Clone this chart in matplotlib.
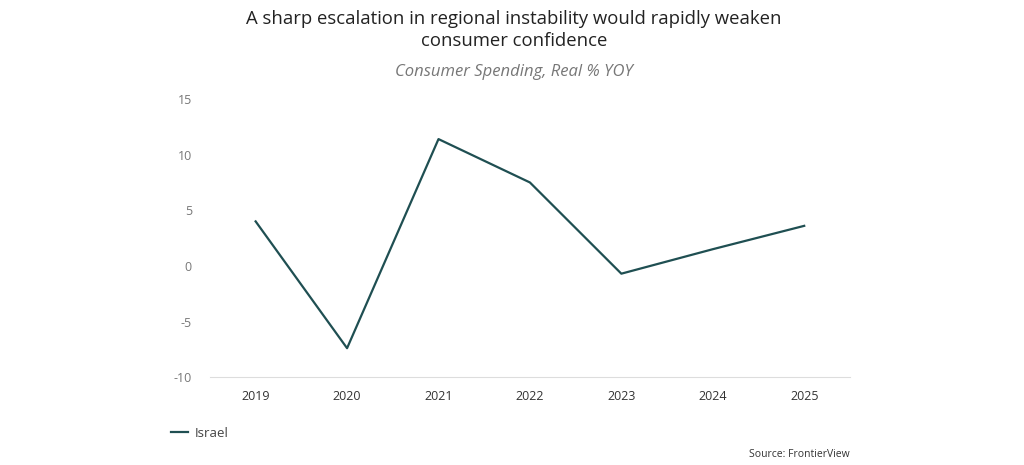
import matplotlib
matplotlib.use('Agg')
import matplotlib.pyplot as plt

years = ['2019', '2020', '2021', '2022', '2023', '2024', '2025']
israel = [4.0, -7.4, 11.4, 7.5, -0.7, 1.5, 3.6]
yticks = [-10, -5, 0, 5, 10, 15]

plt.rcParams['font.family'] = ['Open Sans', 'DejaVu Sans']

fig = plt.figure(figsize=(10.24, 4.65), dpi=100)
ax = fig.add_axes([0.205, 0.189, 0.625, 0.598])

x = range(len(years))
ax.plot(x, israel, color='#1f4f52', linewidth=1.6, label='Israel')

ax.set_xlim(-0.5, len(years) - 0.5)
ax.set_ylim(-10, 15)
ax.set_xticks(list(x))
ax.set_xticklabels(years, fontsize=9, color='#333333')
ax.set_yticks(yticks)
ax.set_yticklabels([str(v) for v in yticks], fontsize=9, color='#777777')
ax.tick_params(axis='both', length=0)
ax.tick_params(axis='x', pad=9)
ax.tick_params(axis='y', pad=13)

for s in ['top', 'right', 'left']:
    ax.spines[s].set_visible(False)
ax.spines['bottom'].set_color('#dddddd')

# Titles
fig.text(0.502, 0.936, 'A sharp escalation in regional instability would rapidly weaken\nconsumer confidence',
         ha='center', va='center', fontsize=13.3, color='#222222', linespacing=1.3)
fig.text(0.502, 0.845, 'Consumer Spending, Real % YOY', ha='center', va='center',
         fontsize=12, style='italic', color='#777777')

# Legend
leg = fig.legend(loc='center left', bbox_to_anchor=(0.155, 0.068), frameon=False,
                 fontsize=9.5, handlelength=1.3, handletextpad=0.5)
for t in leg.get_texts():
    t.set_color('#444444')

fig.text(0.83, 0.022, 'Source: FrontierView', ha='right', va='center', fontsize=7.5, color='#333333')

fig.savefig('out.png', dpi=100, facecolor='white')
